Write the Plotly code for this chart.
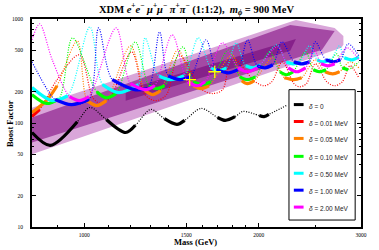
import plotly.graph_objects as go

# ---------------- data ----------------
x_ticks = [1000, 1500, 2000, 3000]
y_ticks = [10, 20, 50, 100, 200, 500, 1000]
x_minor = [900, 1100, 1200, 1300, 1400, 1600, 1700, 1800, 1900, 2500]
y_minor = [30, 40, 60, 70, 80, 90, 300, 400, 600, 700, 800, 900]

band_outer_mass = [813, 2317, 2702, 2797, 2797, 2775, 813]
band_outer_boost = [140, 978, 820, 687, 564, 528, 50]
band_mid_mass = [813, 2265, 2702, 2570, 813]
band_mid_boost = [113, 876, 767, 505, 65]
band_core_mass = [1179, 2317, 2265, 1179]
band_core_boost = [209, 644, 494, 164]

best_mass = [1520, 1679]
best_boost = [261, 311]

black_mass = [813, 874, 973, 1023, 1092, 1179, 1225, 1303, 1375, 1445, 1490, 1591, 1698, 1751, 1820, 1877, 2003, 2042, 2081, 2230]
black_boost = [81, 61, 103, 141, 108, 81, 95, 135, 110, 97, 106, 138, 113, 106, 115, 129, 118, 115, 121, 147]
black_fit = [1, 1, 1, 0, 1, 1, 1, 0, 1, 1, 1, 0, 1, 1, 1, 0, 1, 1, 1, 0]

red_mass = [813, 838, 898, 981, 1035, 1067, 1109, 1207, 1273, 1328, 1386, 1457, 1597, 1666, 1732, 1799, 1972, 2042, 2105, 2196, 2299, 2353, 2416, 2502, 2620, 2702, 2786, 2872, 2974]
red_boost = [116, 135, 261, 452, 175, 154, 175, 484, 187, 164, 187, 452, 209, 192, 209, 423, 249, 228, 249, 387, 239, 223, 239, 371, 249, 228, 249, 355, 272]
red_fit = [1, 1, 0, 0, 0, 0, 0, 0, 0, 0, 0, 0, 0, 0, 0, 0, 0, 0, 0, 0, 0, 0, 0, 0, 0, 0, 0, 0, 0]

orange_mass = [813, 864, 898, 973, 1012, 1051, 1092, 1202, 1273, 1313, 1354, 1451, 1543, 1591, 1641, 1799, 1869, 1912, 1964, 2114, 2213, 2299, 2371, 2502, 2600, 2681, 2754, 2872, 2974]
orange_boost = [126, 168, 228, 616, 164, 147, 164, 552, 205, 187, 205, 505, 228, 214, 228, 452, 255, 239, 255, 423, 272, 261, 272, 405, 311, 297, 311, 387, 339]
orange_fit = [1, 1, 1, 0, 1, 1, 1, 0, 1, 1, 1, 0, 1, 1, 1, 0, 1, 1, 1, 0, 1, 1, 1, 0, 1, 1, 1, 0, 0]

green_mass = [813, 861, 905, 955, 1051, 1092, 1135, 1225, 1293, 1333, 1375, 1480, 1543, 1597, 1653, 1772, 1855, 1912, 1972, 2088, 2175, 2231, 2292, 2408, 2483, 2541, 2610, 2723, 2786, 2850, 2974]
green_boost = [187, 154, 171, 658, 200, 175, 192, 603, 228, 214, 228, 540, 249, 234, 249, 505, 278, 261, 278, 484, 311, 291, 311, 484, 325, 311, 325, 463, 339, 325, 387]
green_fit = [1, 1, 1, 0, 1, 1, 1, 0, 1, 1, 1, 0, 1, 1, 1, 0, 1, 1, 1, 0, 1, 1, 1, 0, 1, 1, 1, 0, 1, 1, 0]

cyan_mass = [813, 881, 937, 1023, 1076, 1148, 1240, 1273, 1344, 1407, 1486, 1573, 1653, 1705, 1758, 1827, 1898, 1957, 2010, 2148, 2231, 2299, 2353, 2445, 2522, 2580, 2661, 2754, 2807, 2895, 2974]
cyan_boost = [219, 164, 183, 838, 234, 196, 234, 658, 285, 261, 285, 658, 339, 318, 339, 589, 355, 339, 363, 564, 387, 371, 387, 552, 405, 387, 405, 552, 423, 405, 433]
cyan_fit = [1, 1, 1, 0, 1, 1, 1, 0, 1, 1, 1, 0, 1, 1, 1, 0, 1, 1, 1, 0, 1, 1, 1, 0, 1, 1, 1, 0, 1, 1, 1]

blue_mass = [813, 864, 891, 951, 1019, 1059, 1118, 1221, 1288, 1349, 1396, 1463, 1525, 1622, 1692, 1772, 1841, 1912, 1987, 2049, 2114, 2193, 2299, 2371, 2445, 2502, 2610, 2692, 2765, 2850, 2974]
blue_boost = [387, 209, 168, 150, 168, 820, 261, 209, 214, 751, 285, 261, 278, 630, 325, 304, 325, 630, 355, 339, 363, 603, 387, 371, 387, 603, 405, 387, 405, 577, 443]
blue_fit = [0, 0, 1, 1, 1, 0, 1, 1, 1, 0, 1, 1, 1, 0, 1, 1, 1, 0, 1, 1, 1, 0, 1, 1, 1, 0, 1, 1, 1, 0, 0]

magenta_mass = [813, 838, 881, 944, 981, 1019, 1135, 1202, 1273, 1323, 1418, 1508, 1567, 1616, 1732, 1841, 1912, 1987, 2157, 2248, 2326, 2408, 2493, 2560, 2630, 2702, 2839, 2974]
magenta_boost = [630, 896, 405, 179, 164, 179, 820, 239, 209, 228, 703, 249, 228, 249, 589, 339, 311, 339, 540, 339, 311, 339, 505, 371, 355, 371, 528, 405]
magenta_fit = [0, 0, 0, 1, 1, 1, 0, 1, 1, 1, 0, 1, 1, 1, 0, 1, 1, 1, 0, 1, 1, 1, 0, 1, 1, 1, 0, 0]

series_labels = ["0", "0.01 MeV", "0.05 MeV", "0.10 MeV", "0.50 MeV", "1.00 MeV", "2.00 MeV"]

# ---------------- figure ----------------
SERIF = "Liberation Serif, Times New Roman, serif"
SANS = "Liberation Sans, Arial, sans-serif"

fig = go.Figure()

fig.add_trace(go.Scatter(x=band_outer_mass, y=band_outer_boost, fill="toself", mode="none",
                         fillcolor="#d9a6d9", hoverinfo="skip"))
fig.add_trace(go.Scatter(x=band_mid_mass, y=band_mid_boost, fill="toself", mode="none",
                         fillcolor="#a449a4", hoverinfo="skip"))
fig.add_trace(go.Scatter(x=band_core_mass, y=band_core_boost, fill="toself", mode="none",
                         fillcolor="#86218a", hoverinfo="skip"))

series = [
    (black_mass, black_boost, black_fit, "#000000"),
    (red_mass, red_boost, red_fit, "#ff0000"),
    (orange_mass, orange_boost, orange_fit, "#ff8000"),
    (green_mass, green_boost, green_fit, "#00ff00"),
    (cyan_mass, cyan_boost, cyan_fit, "#00ffff"),
    (blue_mass, blue_boost, blue_fit, "#0000ff"),
    (magenta_mass, magenta_boost, magenta_fit, "#ff00ff"),
]

for mass, boost, fit, color in series:
    fig.add_trace(go.Scatter(x=mass, y=boost, mode="lines",
                             line=dict(color=color, width=1.2, dash="1px,1.5px", shape="spline", smoothing=0.9),
                             hoverinfo="skip"))
    sx, sy = [], []
    run_x, run_y = [], []
    for m, b, f in zip(mass, boost, fit):
        if f:
            run_x.append(m)
            run_y.append(b)
        else:
            if len(run_x) > 1:
                sx += run_x + [None]
                sy += run_y + [None]
            run_x, run_y = [], []
    if len(run_x) > 1:
        sx += run_x
        sy += run_y
    if sx:
        fig.add_trace(go.Scatter(x=sx, y=sy, mode="lines", connectgaps=False,
                                 line=dict(color=color, width=3.2, shape="spline", smoothing=0.9),
                                 hoverinfo="skip"))

fig.add_trace(go.Scatter(x=best_mass, y=best_boost, mode="markers",
                         marker=dict(symbol="cross-thin", size=9, line=dict(color="#ffff00", width=1.3)),
                         hoverinfo="skip"))

# ---------------- layout ----------------
L, R, T, B = 29, 12, 19, 22
W, H = 379, 250
pw, ph = W - L - R, H - T - B

def px(xp):
    return (xp - L) / pw

def py(yp):
    return (H - B - yp) / ph

axis_common = dict(showgrid=False, zeroline=False, showline=True, linecolor="black", linewidth=1.6,
                   mirror="allticks", ticks="inside", ticklen=4, tickwidth=1, tickcolor="black",
                   tickfont=dict(family=SERIF, size=5.5, color="black"))

fig.update_layout(
    width=W, height=H,
    margin=dict(l=L, r=R, t=T, b=B, pad=0),
    paper_bgcolor="white", plot_bgcolor="white",
    showlegend=False,
    title=dict(text="<b>XDM <i>e</i><sup>+</sup><i>e</i><sup>−</sup> <i>μ</i><sup>+</sup><i>μ</i><sup>−</sup> "
                    "<i>π</i><sup>+</sup><i>π</i><sup>−</sup> (1:1:2),  <i>m</i><sub><i>ϕ</i></sub> = 900 MeV</b>",
               font=dict(family=SERIF, size=10.5, color="black"),
               x=0.5, xref="paper", xanchor="center", y=1 - 9 / H, yref="container", yanchor="middle"),
    xaxis=dict(type="log", range=[2.9101, 3.4771], tickvals=x_ticks, ticktext=[str(v) for v in x_ticks],
               minor=dict(tickvals=x_minor, ticks="inside", ticklen=2, tickcolor="black"),
               ticklabelstandoff=2, **axis_common),
    yaxis=dict(type="log", range=[1, 3], tickvals=y_ticks, ticktext=[str(v) for v in y_ticks],
               minor=dict(tickvals=y_minor, ticks="inside", ticklen=2, tickcolor="black"),
               ticklabelstandoff=6, **axis_common),
)

annotations = [
    dict(text="<b>Mass (GeV)</b>", x=px(197), y=py(243), xref="paper", yref="paper",
         showarrow=False, font=dict(family=SERIF, size=8.5, color="black"), xanchor="center", yanchor="middle"),
    dict(text="<b>Boost Factor</b>", x=px(7), y=py(124), xref="paper", yref="paper", textangle=-90,
         showarrow=False, font=dict(family=SERIF, size=8.5, color="black"), xanchor="center", yanchor="middle"),
]

shapes = [dict(type="rect", xref="paper", yref="paper", x0=px(293), x1=px(361), y0=py(221), y1=py(90),
               fillcolor="white", line=dict(color="black", width=1), layer="above")]

legend_y = [105, 122, 139, 157, 174, 191, 208]
for (mass, boost, fit, color), lab, ly in zip(series, series_labels, legend_y):
    shapes.append(dict(type="line", xref="paper", yref="paper", x0=px(298), x1=px(308), y0=py(ly), y1=py(ly),
                       line=dict(color=color, width=3), layer="above"))
    annotations.append(dict(text="<i>δ</i> = " + lab, x=px(312), y=py(ly + 1.5), xref="paper", yref="paper",
                            showarrow=False, xanchor="left", yanchor="middle",
                            font=dict(family=SANS, size=6.5, color="#222222")))

fig.update_layout(annotations=annotations, shapes=shapes)

fig.write_html("out.html", config={"displayModeBar": False},
               post_script="document.body.style.margin='0px';document.body.style.padding='0px';")
